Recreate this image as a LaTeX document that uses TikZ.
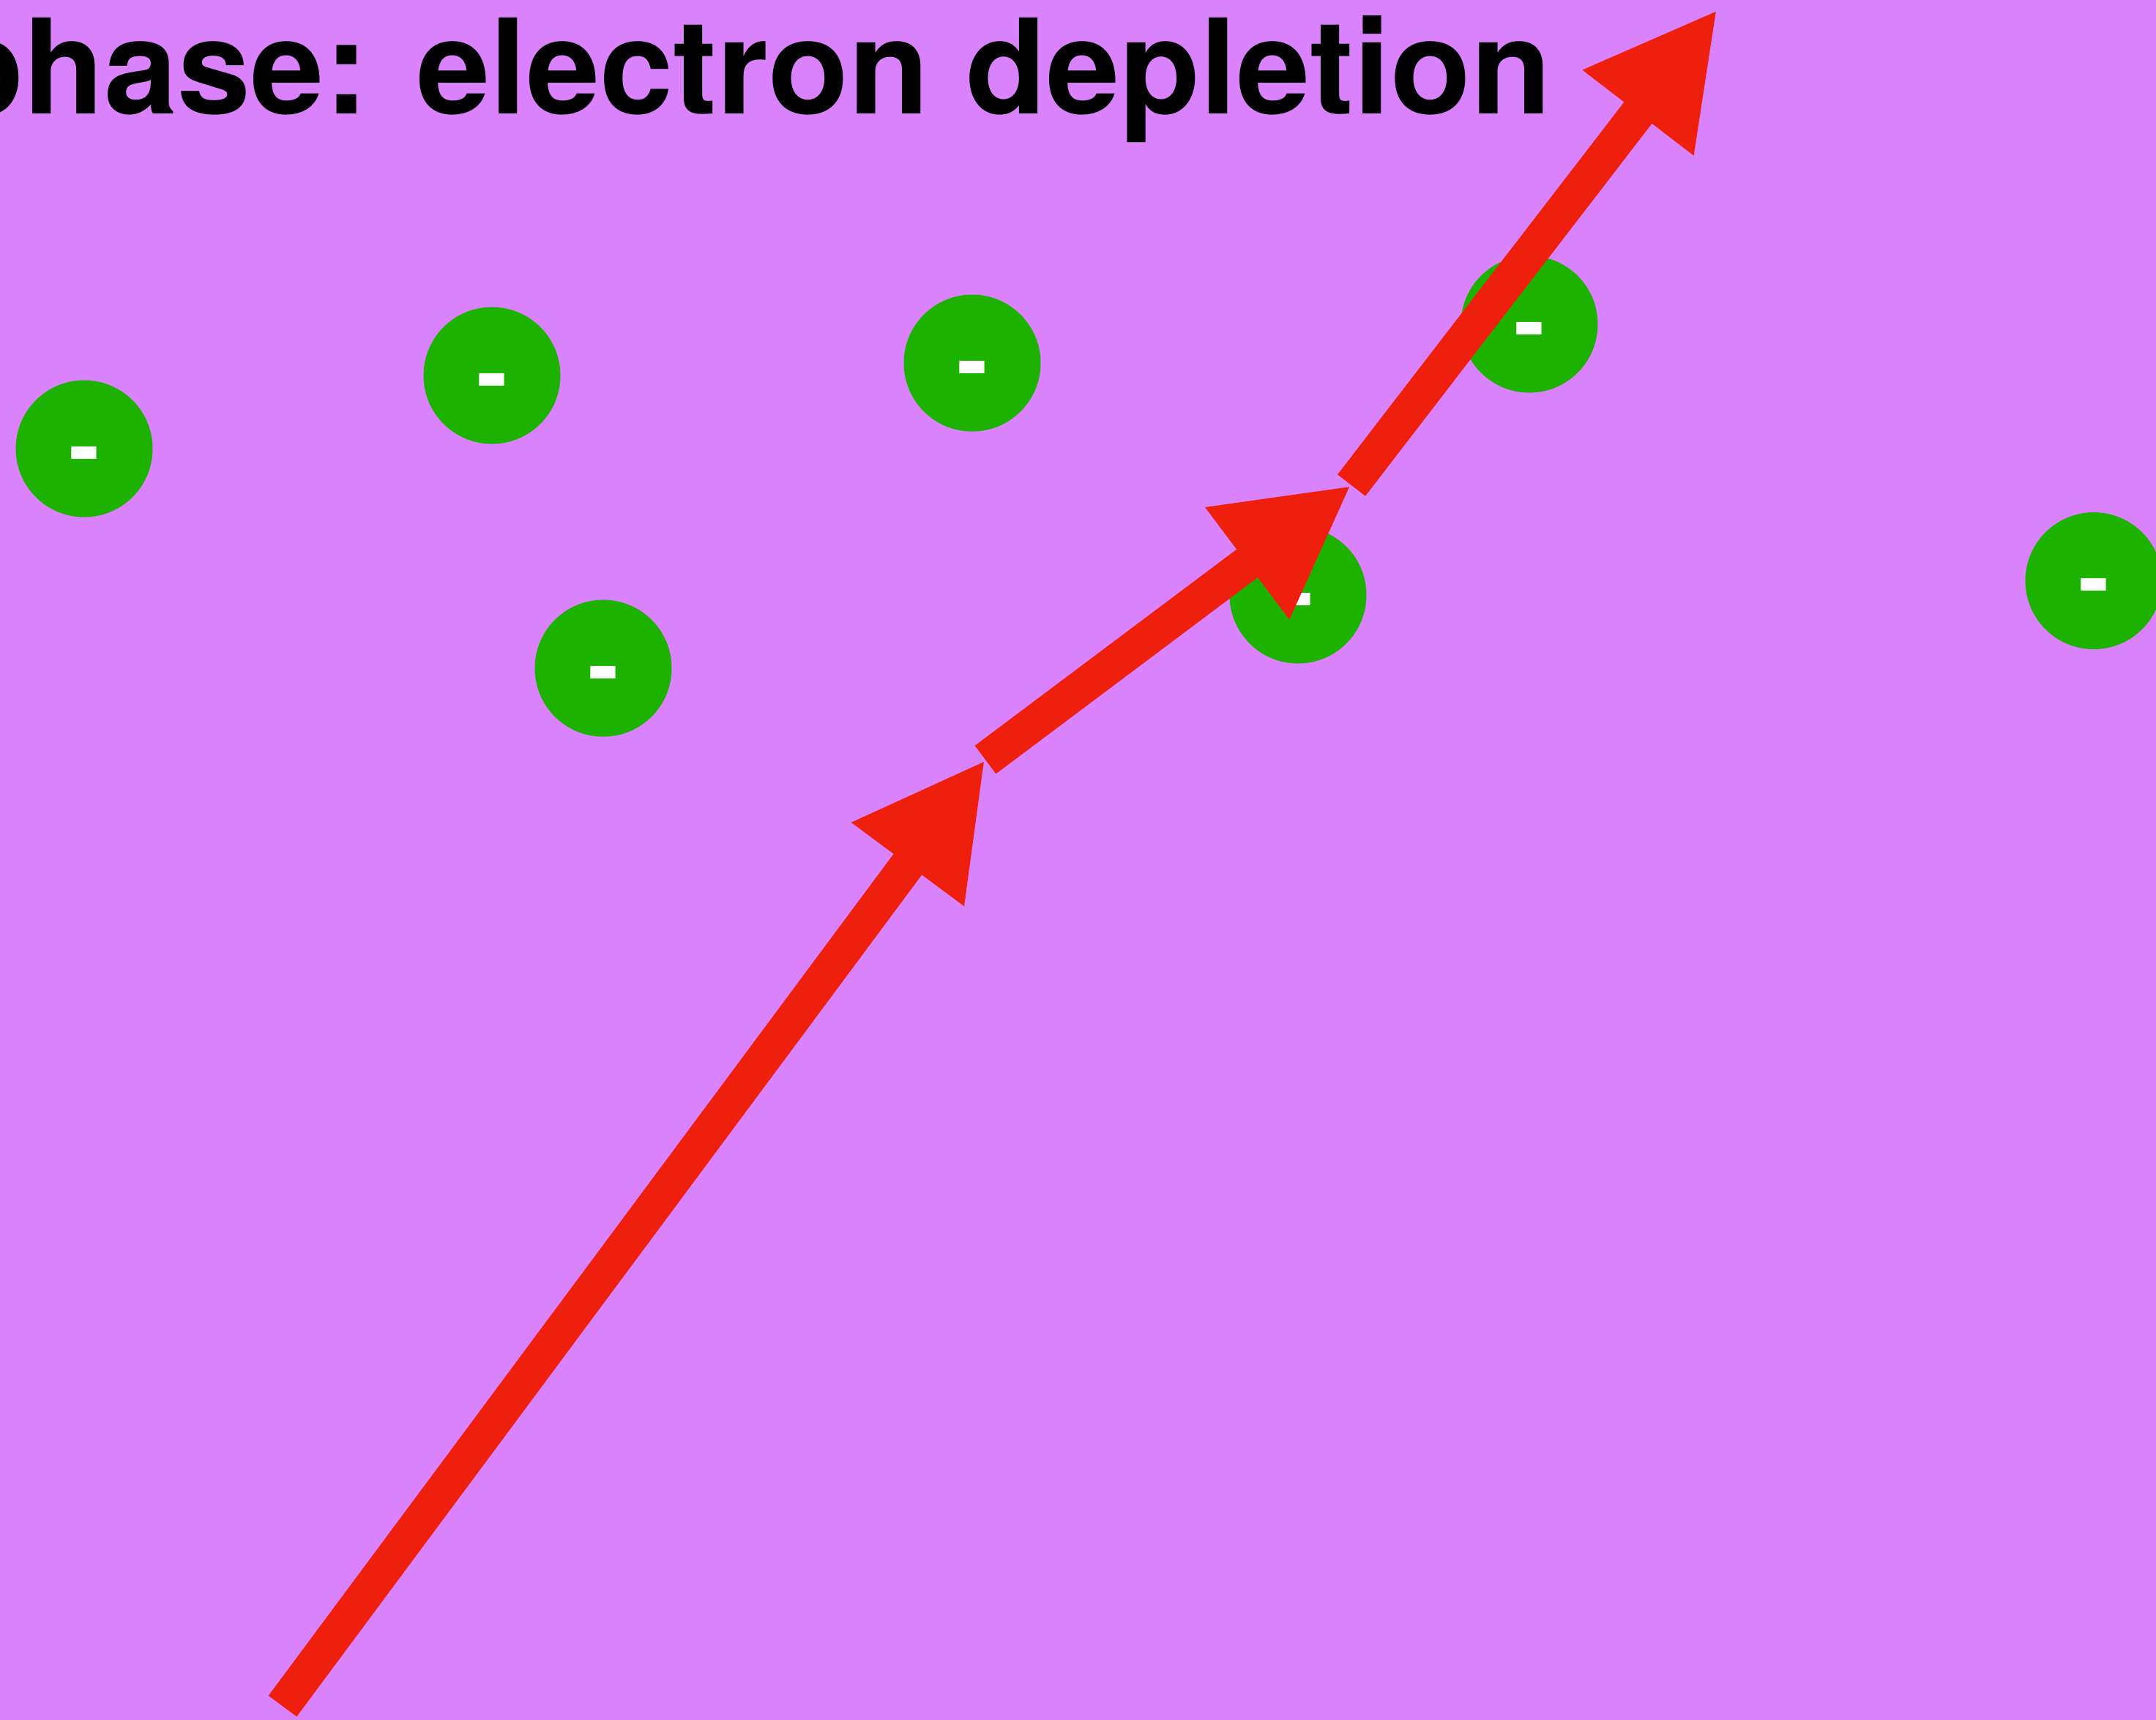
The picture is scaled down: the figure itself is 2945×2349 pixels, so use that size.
\documentclass[tikz,border=0pt]{standalone}
\usepackage{fontspec}
\setmainfont{TeX Gyre Heros}
\usetikzlibrary{arrows.meta}
\definecolor{bgpurple}{RGB}{217,130,252}
\definecolor{egreen}{RGB}{29,178,0}
\definecolor{ared}{RGB}{238,32,13}
\begin{document}
\begin{tikzpicture}[x=0.1pt,y=-0.1pt,
  electron/.style={circle, fill=egreen, draw=none, minimum size=18.7pt, inner sep=0pt,
    text=white, font=\fontsize{12.6pt}{13pt}\selectfont\bfseries,
    text height=8.0pt, text depth=0pt},
  redarrow/.style={draw=ared, line width=4.8pt, line cap=butt,
    -{Triangle[length=17.8pt,width=17.8pt]}, fill=none},
  titletext/.style={anchor=base east, inner sep=0pt,
    font=\fontsize{18.0pt}{20pt}\selectfont\bfseries, text=black}]
\useasboundingbox (0,0) rectangle (2945,2349);
\fill[bgpurple] (-30,-30) rectangle (2975,2379);
\clip (0,0) rectangle (2945,2349);
\node[titletext] (title) at (2121,155.5) {phase: electron depletion};
\node[electron] (e1) at (115,613) {-};
\node[electron] (e2) at (672,513) {-};
\node[electron] (e3) at (1328,496) {-};
\node[electron] (e4) at (824,913) {-};
\node[electron] (e5) at (1773,813) {-};
\node[electron] (e6) at (2089,443) {-};
\node[electron] (e7) at (2860,793.5) {-};
\coordinate (a0) at (386,2331);
\coordinate (a1) at (1346,1038);
\coordinate (a2) at (1846,663);
\coordinate (a3) at (2346,13);
\draw[redarrow] (a0) -- (a1);
\draw[redarrow] (a1) -- (a2);
\draw[redarrow] (a2) -- (a3);
\end{tikzpicture}
\end{document}
